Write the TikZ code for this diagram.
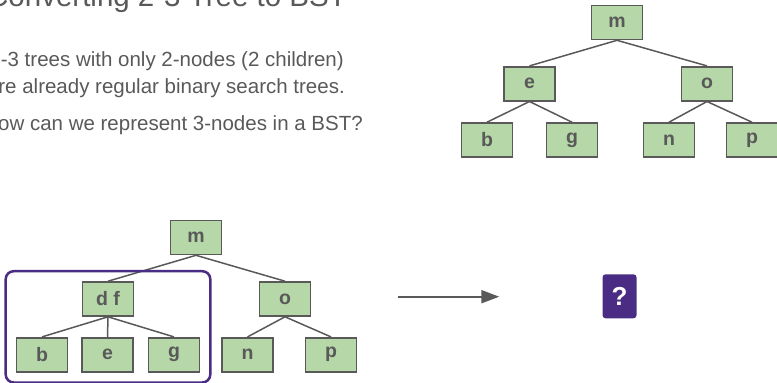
\documentclass[tikz,border=0pt]{standalone}
\usepackage{fontspec}
\setmainfont{Liberation Sans}
\usetikzlibrary{
	arrows.meta,
	positioning,
	fit
}
\definecolor{txtgray}{HTML}{595959}
\definecolor{keygreen}{HTML}{B6D7A8}
\definecolor{deeppurple}{HTML}{4A2C84}

\tikzset{
	key/.style={draw=txtgray, line width=1.6pt, fill=keygreen, text=txtgray,
		minimum width=51pt, minimum height=34pt, inner sep=0pt,
		font=\fontsize{19.5}{22}\selectfont\bfseries},
	link/.style={draw=txtgray, line width=1.5pt},
	body/.style={text=txtgray, font=\fontsize{20.5}{24}\selectfont, inner sep=0pt}
}

\begin{document}
\begin{tikzpicture}[x=1pt, y=-1pt]

		\useasboundingbox (0,0) rectangle (777,383);
		\clip (0,0) rectangle (777,383);

		% heading and text, running off the left edge
		\node[body, anchor=base east, font=\fontsize{29.5}{32}\selectfont] (title) at (347,6) {Converting 2-3 Tree to BST};
		\node[body, anchor=base east] (line1) at (344,66.5) {2-3 trees with only 2-nodes (2 children)};
		\node[body, anchor=base east] (line2) at (345,93) {are already regular binary search trees.};
		\node[body, anchor=base east] (line3) at (363,130) {How can we represent 3-nodes in a BST?};

		% binary search tree
		\node[key] (m1) at (617,22.5) {m};
		\node[key] (e1) at (529.5,83.7) {e};
		\node[key] (o1) at (707,83.7) {o};
		\node[key] (b1) at (487,140) {b};
		\node[key] (g1) at (572,140) {g};
		\node[key] (n1) at (669,140) {n};
		\node[key] (p1) at (752,140) {p};

		\draw[link] (m1.south) -- (e1.north);
		\draw[link] (m1.south) -- (o1.north);
		\draw[link] (e1.south) -- (b1.north);
		\draw[link] (e1.south) -- (g1.north);
		\draw[link] (o1.south) -- (n1.north);
		\draw[link] (o1.south) -- (p1.north);

		% 2-3 tree with a 3-node
		\node[key] (m2) at (196,237.5) {m};
		\node[key] (df2) at (108,299) {d f};
		\node[key] (o2) at (285,299) {o};
		\node[key] (b2) at (42,354.7) {b};
		\node[key] (e2) at (107.5,354.7) {e};
		\node[key] (g2) at (174,354.7) {g};
		\node[key] (n2) at (247.5,354.7) {n};
		\node[key] (p2) at (331,354.7) {p};

		\draw[link] (m2.south) -- (df2.north);
		\draw[link] (m2.south) -- (o2.north);
		\draw[link] (df2.south) -- (b2.north);
		\draw[link] (df2.south) -- (e2.north);
		\draw[link] (df2.south) -- (g2.north);
		\draw[link] (o2.south) -- (n2.north);
		\draw[link] (o2.south) -- (p2.north);

		\node[draw=deeppurple, line width=2.5pt, rounded corners=8pt, inner sep=10pt,
			fit=(df2) (b2) (g2)] (three) {};

		% arrow to the unknown
		\node[fill=deeppurple, rounded corners=3pt, minimum width=34pt, minimum height=44pt,
			inner sep=0pt, text=white, font=\fontsize{26}{28}\selectfont\bfseries] (ask) at (619.5,296.3) {?};
		\coordinate (from) at (398.3,296.7);
		\coordinate (to) at (499.3,296.7);
		\draw[txtgray, line width=2pt, -{Triangle[length=18pt, width=13pt]}] (from) -- (to);

	\end{tikzpicture}
\end{document}
